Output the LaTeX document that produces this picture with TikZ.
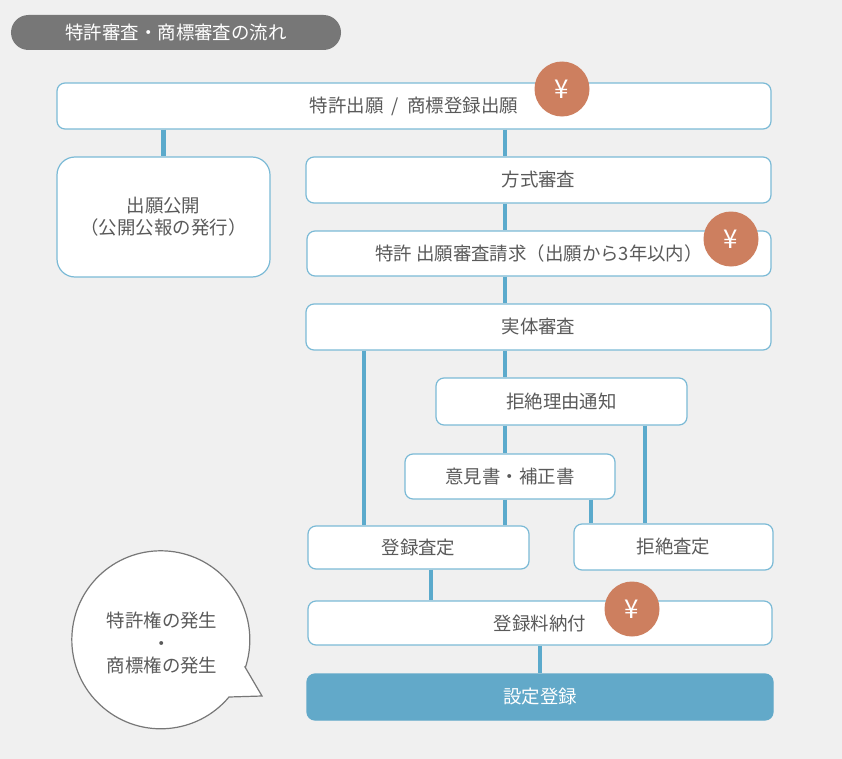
\documentclass[tikz,border=0pt]{standalone}
\usepackage{fontspec}
\newfontfamily\jpfont{Noto Sans CJK JP}
\usetikzlibrary{positioning,calc}
\definecolor{bggray}{HTML}{F0F0F0}
\definecolor{boxline}{HTML}{7BBAD6}
\definecolor{linkblue}{HTML}{5BAACC}
\definecolor{regblue}{HTML}{62A9C9}
\definecolor{txtgray}{HTML}{5A5A5A}
\definecolor{pillgray}{HTML}{777777}
\definecolor{yenorange}{HTML}{CD7F5F}
\definecolor{bubbleline}{HTML}{777777}

\begin{document}
\begin{tikzpicture}[x=1bp,y=-1bp,
  box/.style={draw=boxline,line width=1.2bp,fill=white,rounded corners=8bp,
    text=txtgray,font=\jpfont\fontsize{18.5}{22}\selectfont,
    minimum height=46bp,inner sep=0pt,align=center},
  link/.style={draw=linkblue,line width=4.5bp},
  yen/.style={circle,fill=yenorange,text=white,minimum size=55bp,inner sep=0pt,
    font=\jpfont\fontsize{26}{26}\selectfont}]

\fill[bggray] (0,0) rectangle (842,759);
\useasboundingbox (0,0) rectangle (842,759);

% title
\node[fill=pillgray,text=white,rounded corners=17.5bp,minimum width=330bp,
  minimum height=35bp,inner sep=0pt,font=\jpfont\fontsize{18.5}{22}\selectfont]
  (ttl) at (176,32.5) {特許審査・商標審査の流れ};

% boxes
\node[box,minimum width=714bp] (appl) at (414,106)
  {特許出願\hspace{0.45em}/\hspace{0.45em}商標登録出願};
\node[box,minimum width=213bp,minimum height=120bp,rounded corners=18bp]
  (pub) at (163.5,217) {出願公開\\（公開公報の発行）};
\node[box,minimum width=465bp] (form) at (538.5,180) {方式審査};
\node[box,minimum width=464bp,minimum height=45bp] (req) at (539,253.5)
  {特許 出願審査請求（出願から3年以内）};
\node[box,minimum width=465bp] (subst) at (538.5,327) {実体審査};
\node[box,minimum width=251bp,minimum height=47bp] (notice) at (561.5,401.5) {拒絶理由通知};
\node[box,minimum width=210bp,minimum height=45bp] (resp) at (510,476.5) {意見書・補正書};
\node[box,minimum width=221bp,minimum height=43bp] (grant) at (418.5,547.5) {登録査定};
\node[box,minimum width=199bp] (reject) at (673.5,547) {拒絶査定};
\node[box,minimum width=464bp,minimum height=44bp] (fee) at (540,623) {登録料納付};
\node[box,minimum width=466bp,fill=regblue,draw=regblue,text=white] (reg) at (540,697) {設定登録};

% connectors
\coordinate (trunk) at (505,0);
\coordinate (grantin) at (364,0);
\coordinate (rejectin) at (645,0);
\coordinate (respout) at (591,0);
\coordinate (grantout) at (431,0);
\draw[link] (appl.south -| pub.north) -- (pub.north);
\draw[link] (appl.south -| trunk) -- (form.north -| trunk);
\draw[link] (form.south -| trunk) -- (req.north -| trunk);
\draw[link] (req.south -| trunk) -- (subst.north -| trunk);
\draw[link] (subst.south -| trunk) -- (notice.north -| trunk);
\draw[link] (subst.south -| grantin) -- (grant.north -| grantin);
\draw[link] (notice.south -| trunk) -- (resp.north -| trunk);
\draw[link] (notice.south -| rejectin) -- (reject.north -| rejectin);
\draw[link] (resp.south -| trunk) -- (grant.north -| trunk);
\draw[link] (resp.south -| respout) -- (reject.north -| respout);
\draw[link] (grant.south -| grantout) -- (fee.north -| grantout);
\draw[link] (fee.south) -- (reg.north);

% fees
\node[yen] (yenA) at (562,89) {¥};
\node[yen] (yenB) at (731,239) {¥};
\node[yen] (yenC) at (632,609) {¥};

% speech bubble
\draw[draw=bubbleline,fill=white,line width=1.2bp]
  (245,667) -- (262,696) -- (229,697) arc[start angle=40,end angle=377.8,radius=89] -- cycle;
\node[text=txtgray,align=center,inner sep=0pt,
  font=\jpfont\fontsize{18.5}{23}\selectfont] (rights) at (162,643)
  {特許権の発生\\・\\商標権の発生};

\end{tikzpicture}
\end{document}
